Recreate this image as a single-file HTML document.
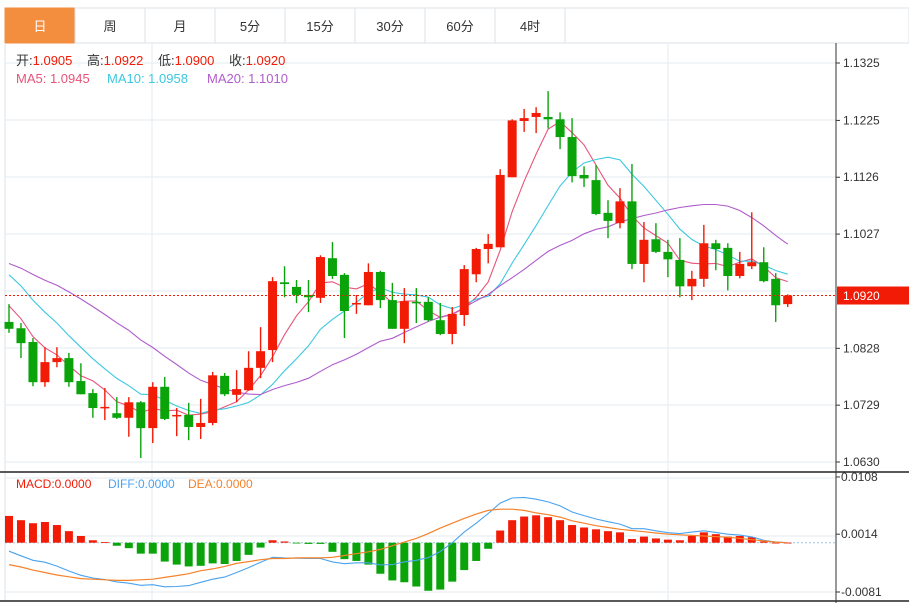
<!DOCTYPE html>
<html><head><meta charset="utf-8">
<style>
html,body{margin:0;padding:0;background:#fff;}
body{width:909px;height:603px;overflow:hidden;font-family:"Liberation Sans","Noto Sans CJK SC",sans-serif;}
svg text{font-family:"Liberation Sans","Noto Sans CJK SC",sans-serif;}
</style></head>
<body>
<svg id="chart" width="909" height="603" viewBox="0 0 909 603" xmlns="http://www.w3.org/2000/svg">
  <rect x="0" y="0" width="909" height="603" fill="#fff"/>
  <g id="tabs"></g>
  <g id="grid"></g>
  <g id="ma"></g>
  <g id="candles"></g>
  <g id="macd"></g>
  <g id="axis"></g>
  <g font-size="13">
    <text x="16" y="65"><tspan fill="#333">开:</tspan><tspan fill="#f21b06">1.0905</tspan></text>
    <text x="87" y="65"><tspan fill="#333">高:</tspan><tspan fill="#f21b06">1.0922</tspan></text>
    <text x="158" y="65"><tspan fill="#333">低:</tspan><tspan fill="#f21b06">1.0900</tspan></text>
    <text x="229" y="65"><tspan fill="#333">收:</tspan><tspan fill="#f21b06">1.0920</tspan></text>
  </g>
  <g font-size="13">
    <text x="16" y="83" fill="#e8537a">MA5: 1.0945</text>
    <text x="107" y="83" fill="#3cc8e0">MA10: 1.0958</text>
    <text x="207" y="83" fill="#b05ccc">MA20: 1.1010</text>
  </g>
  <g font-size="12">
    <text x="16" y="488" fill="#f21b06">MACD:0.0000</text>
    <text x="108" y="488" fill="#4aa3ee">DIFF:0.0000</text>
    <text x="188" y="488" fill="#f5822a">DEA:0.0000</text>
  </g>
</svg>
<script>
const opens  =[1.0874,1.0863,1.0839,1.0769,1.0804,1.0811,1.0771,1.0750,1.0724,1.0715,1.0707,1.0734,1.0689,1.0761,1.0710,1.0712,1.0691,1.0698,1.0780,1.0747,1.0755,1.0794,1.0825,1.0943,1.0935,1.0921,1.0916,1.0985,1.0956,1.0905,1.0903,1.0961,1.0912,1.0862,1.0909,1.0909,1.0877,1.0853,1.0886,1.0957,1.1001,1.1004,1.1126,1.1224,1.1231,1.1231,1.1227,1.1196,1.1130,1.1121,1.1064,1.1046,1.1084,1.0975,1.1018,1.0996,1.0982,1.0936,1.0949,1.1011,1.1003,1.0954,1.0971,1.0978,1.0949,1.0905];
const highs  =[1.0905,1.0872,1.0846,1.0830,1.0830,1.0820,1.0802,1.0757,1.0759,1.0743,1.0743,1.0736,1.0769,1.0778,1.0724,1.0733,1.0740,1.0787,1.0785,1.0790,1.0823,1.0865,1.0952,1.0971,1.0947,1.0947,1.0990,1.1013,1.0959,1.0921,1.0976,1.0963,1.0942,1.0933,1.0933,1.0917,1.0907,1.0900,1.0973,1.1003,1.1027,1.1140,1.1227,1.1245,1.1248,1.1276,1.1239,1.1229,1.1145,1.1147,1.1086,1.1107,1.1149,1.1048,1.1046,1.1017,1.1020,1.0963,1.1043,1.1017,1.1011,1.0996,1.1065,1.1004,1.0959,1.0922];
const lows   =[1.0855,1.0811,1.0762,1.0761,1.0795,1.0761,1.0748,1.0707,1.0703,1.0705,1.0674,1.0637,1.0663,1.0703,1.0675,1.0668,1.0670,1.0694,1.0745,1.0734,1.0754,1.0776,1.0804,1.0917,1.0907,1.0891,1.0907,1.0949,1.0846,1.0888,1.0903,1.0898,1.0862,1.0837,1.0872,1.0875,1.0851,1.0835,1.0867,1.0943,1.0976,1.1004,1.1126,1.1205,1.1203,1.1211,1.1175,1.1117,1.1109,1.1060,1.1020,1.1037,1.0966,1.0943,1.0994,1.0952,1.0917,1.0912,1.0935,1.0964,1.0929,1.0950,1.0966,1.0943,1.0874,1.0900];
const closes =[1.0862,1.0837,1.0769,1.0804,1.0811,1.0769,1.0748,1.0724,1.0726,1.0707,1.0734,1.0689,1.0761,1.0705,1.0712,1.0691,1.0698,1.0781,1.0748,1.0757,1.0794,1.0823,1.0945,1.0940,1.0921,1.0917,1.0987,1.0954,1.0893,1.0907,1.0961,1.0912,1.0862,1.0910,1.0907,1.0877,1.0853,1.0888,1.0966,1.1001,1.1010,1.1130,1.1225,1.1229,1.1238,1.1227,1.1196,1.1128,1.1124,1.1062,1.1050,1.1084,1.0975,1.1017,1.0996,1.0983,1.0936,1.0949,1.1011,1.1001,1.0954,1.0975,1.0978,1.0945,1.0903,1.0920];
const priorCloses=[1.1000,1.0990,1.1005,1.0985,1.1000,1.0995,1.0990,1.1000,1.0995,1.0996,1.1030,1.1020,1.1010,1.1000,1.0990,1.0950,1.0925,1.0900,1.0873];
const macdHist=[0.0044,0.0037,0.0032,0.0034,0.0029,0.0019,0.0011,0.0004,0.0001,-0.0005,-0.0009,-0.0018,-0.0018,-0.0031,-0.0036,-0.0039,-0.0038,-0.0034,-0.0035,-0.0030,-0.0020,-0.0008,0.0004,0.0002,-0.0001,-0.0002,-0.0002,-0.0015,-0.0027,-0.0030,-0.0036,-0.0051,-0.0062,-0.0065,-0.0072,-0.0079,-0.0077,-0.0064,-0.0045,-0.0030,-0.0010,0.0020,0.0037,0.0043,0.0045,0.0042,0.0037,0.0029,0.0025,0.0022,0.0019,0.0017,0.0006,0.0010,0.0007,0.0005,0.0004,0.0011,0.0017,0.0014,0.0010,0.0011,0.0009,0.0002,0.0000,0.0000];
const deaValues=[-0.0036,-0.0040,-0.0045,-0.0049,-0.0053,-0.0056,-0.0059,-0.0060,-0.0061,-0.0062,-0.0062,-0.0061,-0.0060,-0.0057,-0.0054,-0.0051,-0.0046,-0.0043,-0.0039,-0.0034,-0.0031,-0.0028,-0.0026,-0.0026,-0.0025,-0.0025,-0.0025,-0.0024,-0.0021,-0.0018,-0.0015,-0.0011,-0.0005,0.0001,0.0007,0.0015,0.0024,0.0032,0.0040,0.0047,0.0053,0.0055,0.0055,0.0053,0.0049,0.0046,0.0042,0.0036,0.0032,0.0028,0.0025,0.0022,0.0020,0.0018,0.0016,0.0014,0.0013,0.0012,0.0011,0.0010,0.0009,0.0007,0.0005,0.0003,0.0001,0.0000];
const priceTicks=["1.1325","1.1225","1.1126","1.1027","1.0828","1.0729","1.0630"];
const macdTicks=["0.0108","0.0014","-0.0081"];
const tabLabels=["日","周","月","5分","15分","30分","60分","4时"];
const lastPrice=1.0920;

const NS="http://www.w3.org/2000/svg";
function mk(tag,attrs,parent){const e=document.createElementNS(NS,tag);for(const k in attrs)e.setAttribute(k,attrs[k]);parent.appendChild(e);return e;}
const RED="#f21b06",GREEN="#0aa40a";
// axes
const pMin=1.0630,pMax=1.1325,yMin=462,yMax=63;
function py(p){return yMin-(p-pMin)/(pMax-pMin)*(yMin-yMax);}
const mZero=542.7,mScale=6085;
function my(v){return mZero-v*mScale;}
function xi(i){return 9+i*11.98;}

// tabs
const tabs=document.getElementById('tabs');
mk('rect',{x:5,y:8,width:904,height:35,fill:'#fff',stroke:'#dde3ea'},tabs);
tabLabels.forEach((t,i)=>{
  const g=mk('g',{},tabs);
  
  
  const x=5+i*70;
  mk('rect',{x:x,y:8,width:70,height:35,fill:i===0?'#f38e3f':'#fff',stroke:i===0?'#f38e3f':'#dde3ea'},g);
  const tx=mk('text',{x:x+35,y:31,'text-anchor':'middle','font-size':13,fill:i===0?'#fff':'#333'},g);
  tx.textContent=t;
});
mk('line',{x1:565,y1:8,x2:565,y2:43,stroke:'#dde3ea'},tabs);

// grid
const grid=document.getElementById('grid');
mk('line',{x1:5,y1:43,x2:5,y2:600,stroke:'#dde3ea'},grid);
[63,120,177,234,291,348,405,462].forEach(y=>mk('line',{x1:5,y1:y,x2:836,y2:y,stroke:'#e3ebf2'},grid));
[478,536,592].forEach(y=>mk('line',{x1:5,y1:y,x2:836,y2:y,stroke:'#e3ebf2'},grid));
[152,668].forEach(x=>{mk('line',{x1:x,y1:43,x2:x,y2:471,stroke:'#e3ebf2'},grid);mk('line',{x1:x,y1:473,x2:x,y2:600,stroke:'#e3ebf2'},grid);});
mk('line',{x1:0,y1:472,x2:909,y2:472,stroke:'#222','stroke-width':1.5},grid);
mk('line',{x1:0,y1:601,x2:909,y2:601,stroke:'#222','stroke-width':1.5},grid);
mk('line',{x1:836,y1:43,x2:836,y2:603,stroke:'#333'},grid);

// moving averages
const all=priorCloses.concat(closes);
function ma(n){return closes.map((c,i)=>{const j=i+priorCloses.length;let s=0;for(let k=j-n+1;k<=j;k++)s+=all[k];return s/n;});}
const maG=document.getElementById('ma');
[[5,'#e8537a','ma5-line'],[10,'#3cc8e0','ma10-line'],[20,'#b05ccc','ma20-line']].forEach(([n,col,name])=>{
  const v=ma(n);
  const pl=mk('polyline',{points:v.map((p,i)=>xi(i).toFixed(1)+','+py(p).toFixed(1)).join(' '),fill:'none',stroke:col,'stroke-width':1.1},maG);
  
  
});

// candles
const cg=document.getElementById('candles');
closes.forEach((c,i)=>{
  const o=opens[i],h=highs[i],l=lows[i];
  const col=c>=o?RED:GREEN;
  const g=mk('g',{},cg);
  
  
  const x=xi(i);
  mk('line',{x1:x,y1:py(h),x2:x,y2:py(l),stroke:col,'stroke-width':1.4},g);
  const top=py(Math.max(o,c)),bot=py(Math.min(o,c));
  mk('rect',{x:x-4.5,y:top,width:9,height:Math.max(1.5,bot-top),fill:col},g);
});
// last price line
mk('line',{x1:5,y1:py(lastPrice),x2:836,y2:py(lastPrice),stroke:RED,'stroke-dasharray':'2,2','stroke-width':1},cg);

// macd
const mg=document.getElementById('macd');
mk('line',{x1:5,y1:mZero,x2:836,y2:mZero,stroke:'#9cc6e6','stroke-dasharray':'2,2'},mg);
macdHist.forEach((v,i)=>{
  const y0=my(0),y1=my(v);
  const r=mk('rect',{x:xi(i)-4,y:Math.min(y0,y1),width:8,height:Math.max(0.8,Math.abs(y1-y0)),fill:v>=0?RED:GREEN},mg);
  
  
});
const diffValues=deaValues.map((d,i)=>d+macdHist[i]/2);
const dl=mk('polyline',{points:diffValues.map((v,i)=>xi(i).toFixed(1)+','+my(v).toFixed(1)).join(' '),fill:'none',stroke:'#4aa3ee','stroke-width':1.1},mg);


const el=mk('polyline',{points:deaValues.map((v,i)=>xi(i).toFixed(1)+','+my(v).toFixed(1)).join(' '),fill:'none',stroke:'#f5822a','stroke-width':1.2},mg);



// axis labels
const ax=document.getElementById('axis');
priceTicks.forEach(t=>{
  const y=py(parseFloat(t));
  mk('line',{x1:836,y1:y,x2:840,y2:y,stroke:'#333'},ax);
  const tx=mk('text',{x:843,y:y+4,'font-size':12,fill:'#333'},ax);
  
  
  tx.textContent=t;
});
macdTicks.forEach(t=>{
  const y=my(parseFloat(t))+0; 
  mk('line',{x1:836,y1:y,x2:840,y2:y,stroke:'#333'},ax);
  const tx=mk('text',{x:841,y:y+4,'font-size':12,fill:'#333'},ax);
  
  
  tx.textContent=t;
});
const ly=py(lastPrice);
const lb=mk('rect',{x:837,y:ly-9,width:72,height:18,fill:RED},ax);


const lt=mk('text',{x:843,y:ly+4.5,'font-size':12,fill:'#fff'},ax);
lt.textContent=lastPrice.toFixed(4);
</script>
</body></html>
